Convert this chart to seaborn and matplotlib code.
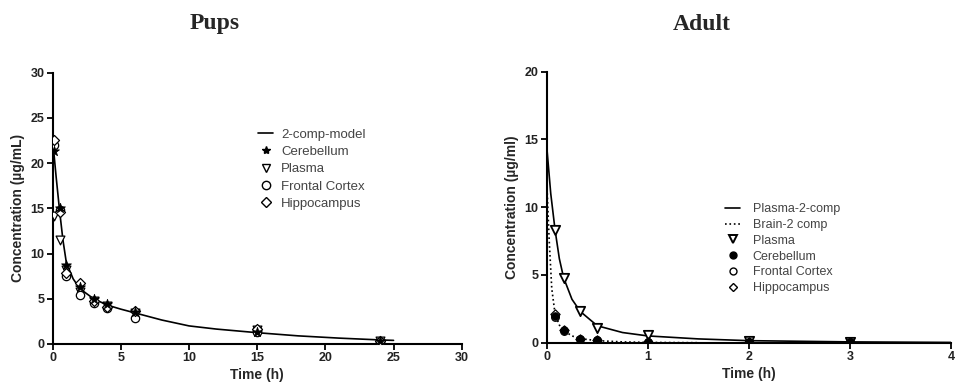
import matplotlib
matplotlib.use("Agg")
import matplotlib.pyplot as plt
import seaborn as sns
import pandas as pd
from matplotlib.lines import Line2D

# ---------------- data ----------------
pup_times = [0.083, 0.5, 1, 2, 3, 4, 6, 15, 24]
pup_cerebellum = [21.3, 15.0, 8.7, 6.3, 5.0, 4.4, 3.5, 1.3, 0.3]
pup_plasma = [14.1, 11.5, 8.2, 5.8, 4.8, 4.2, 3.4, 1.6, 0.3]
pup_frontal = [22.0, 14.8, 7.5, 5.4, 4.5, 4.0, 2.9, 1.3, 0.25]
pup_hippo = [22.5, 14.6, 7.8, 6.7, 4.7, 4.1, 3.6, 1.7, 0.35]

pup_model_t = [0, 0.25, 0.5, 0.75, 1, 1.5, 2, 3, 4, 5, 6, 8, 10, 12, 15, 18, 21, 24, 25]
pup_model_c = [22.5, 18.5, 14.8, 11.5, 9.0, 7.2, 6.1, 5.0, 4.3, 3.85, 3.45, 2.65, 2.0, 1.65, 1.25, 0.9, 0.65, 0.45, 0.4]

adult_times = [0.083, 0.167, 0.333, 0.5, 1, 2, 3]
adult_plasma = [8.3, 4.75, 2.35, 1.1, 0.6, 0.12, 0.06]
adult_cerebellum = [2.0, 0.9, 0.27, 0.2, 0.03, 0.05, 0.08]
adult_frontal = [1.9, 0.85, 0.25, 0.18, 0.02, 0.03, 0.05]
adult_hippo = [2.1, 0.95, 0.3, 0.22, 0.03, 0.04, 0.06]

adult_plasma_model_t = [0, 0.04, 0.083, 0.125, 0.167, 0.25, 0.333, 0.5, 0.75, 1, 1.5, 2, 3, 4]
adult_plasma_model_c = [14.5, 11.0, 8.3, 6.2, 4.8, 3.2, 2.3, 1.25, 0.75, 0.5, 0.28, 0.15, 0.06, 0.02]
adult_brain_model_t = [0, 0.025, 0.05, 0.083, 0.125, 0.167, 0.25, 0.333, 0.5, 0.75, 1, 1.5]
adult_brain_model_c = [12.0, 7.5, 4.0, 2.1, 1.3, 0.9, 0.5, 0.3, 0.15, 0.06, 0.02, 0.0]

pup_xticks = [0, 5, 10, 15, 20, 25, 30]
pup_yticks = [0, 5, 10, 15, 20, 25, 30]
adult_xticks = [0, 1, 2, 3, 4]
adult_yticks = [0, 5, 10, 15, 20]

# ---------------- style ----------------
sns.set_theme(style="ticks")
plt.rcParams['font.family'] = ['Liberation Sans', 'DejaVu Sans']

fig = plt.figure(figsize=(9.6, 3.84), dpi=100)
ax1 = fig.add_axes([52.7/960, 40/384, 409/960, 271.5/384])
ax2 = fig.add_axes([546.7/960, 41.3/384, 404.3/960, 271.2/384])

def style_axes(ax, xticks, yticks):
    for s in ['top', 'right']:
        ax.spines[s].set_visible(False)
    for s in ['left', 'bottom']:
        ax.spines[s].set_color('black')
        ax.spines[s].set_linewidth(1.5)
    ax.set_xticks(xticks)
    ax.set_yticks(yticks)
    ax.tick_params(direction='out', length=4, width=1.3, colors='black', labelsize=9, pad=2)
    for lab in ax.get_xticklabels() + ax.get_yticklabels():
        lab.set_fontweight('bold')
        lab.set_color('#222222')
    ax.set_facecolor('white')

# ---------------- Pups ----------------
sns.lineplot(x=pup_model_t, y=pup_model_c, ax=ax1, color='black', lw=1.2, sort=False, estimator=None)
sns.scatterplot(x=pup_times, y=pup_plasma, ax=ax1, marker='v', color='white', edgecolor='black', linewidth=0.9, s=40, zorder=3)
sns.scatterplot(x=pup_times, y=pup_frontal, ax=ax1, marker='o', color='white', edgecolor='black', linewidth=0.9, s=36, zorder=3)
sns.scatterplot(x=pup_times, y=pup_hippo, ax=ax1, marker='D', color='white', edgecolor='black', linewidth=0.9, s=26, zorder=3)
sns.scatterplot(x=pup_times, y=pup_cerebellum, ax=ax1, marker='*', color='black', edgecolor='black', linewidth=0.6, s=55, zorder=4)
ax1.set_xlim(0, 30)
ax1.set_ylim(0, 30)
style_axes(ax1, pup_xticks, pup_yticks)
ax1.set_xlabel('Time (h)', fontsize=10, fontweight='bold', labelpad=3)
ax1.set_ylabel('Concentration (µg/mL)', fontsize=10, fontweight='bold', labelpad=4)

h1 = [
    Line2D([], [], color='black', lw=1.2),
    Line2D([], [], color='black', marker='*', ls='none', markersize=6),
    Line2D([], [], color='black', marker='v', mfc='white', ls='none', markersize=6),
    Line2D([], [], color='black', marker='o', mfc='white', ls='none', markersize=6),
    Line2D([], [], color='black', marker='D', mfc='white', ls='none', markersize=5),
]
l1 = ['2-comp-model', 'Cerebellum', 'Plasma', 'Frontal Cortex', 'Hippocampus']
leg1 = ax1.legend(h1, l1, loc='upper left', bbox_to_anchor=((251-52.7)/409, (344-122)/271.5),
                  frameon=False, fontsize=9.5, handlelength=1.2, handletextpad=0.6,
                  labelspacing=0.38, borderpad=0)
for t in leg1.get_texts():
    t.set_color('#444444')

# ---------------- Adult ----------------
sns.lineplot(x=adult_plasma_model_t, y=adult_plasma_model_c, ax=ax2, color='black', lw=1.2, sort=False, estimator=None)
sns.lineplot(x=adult_brain_model_t, y=adult_brain_model_c, ax=ax2, color='black', lw=1.2, ls=':', sort=False, estimator=None)
sns.scatterplot(x=adult_times, y=adult_plasma, ax=ax2, marker='v', color='white', edgecolor='black', linewidth=1.3, s=45, zorder=3)
sns.scatterplot(x=adult_times, y=adult_frontal, ax=ax2, marker='o', color='white', edgecolor='black', linewidth=0.9, s=30, zorder=3)
sns.scatterplot(x=adult_times, y=adult_hippo, ax=ax2, marker='D', color='white', edgecolor='black', linewidth=0.9, s=22, zorder=3)
sns.scatterplot(x=adult_times, y=adult_cerebellum, ax=ax2, marker='o', color='black', edgecolor='black', linewidth=0.6, s=30, zorder=4)
ax2.set_xlim(0, 4)
ax2.set_ylim(0, 20)
style_axes(ax2, adult_xticks, adult_yticks)
ax2.set_xlabel('Time (h)', fontsize=10, fontweight='bold', labelpad=3)
ax2.set_ylabel('Concentration (µg/ml)', fontsize=10, fontweight='bold', labelpad=4)

h2 = [
    Line2D([], [], color='black', lw=1.2),
    Line2D([], [], color='black', lw=1.2, ls=':'),
    Line2D([], [], color='black', marker='v', mfc='white', mew=1.4, ls='none', markersize=6),
    Line2D([], [], color='black', marker='o', ls='none', markersize=5),
    Line2D([], [], color='black', marker='o', mfc='white', ls='none', markersize=5),
    Line2D([], [], color='black', marker='D', mfc='white', ls='none', markersize=4.5),
]
l2 = ['Plasma-2-comp', 'Brain-2 comp', 'Plasma', 'Cerebellum', 'Frontal Cortex', 'Hippocampus']
leg2 = ax2.legend(h2, l2, loc='upper left', bbox_to_anchor=((719-546.7)/404.3, (342.7-197)/271.2),
                  frameon=False, fontsize=9, handlelength=1.2, handletextpad=1.0,
                  labelspacing=0.3, borderpad=0)
for t in leg2.get_texts():
    t.set_color('#444444')

# ---------------- titles ----------------
fig.text(214.5/960, 1 - 24/384, 'Pups', ha='center', va='center', fontsize=17, fontweight='bold',
         family=['Liberation Serif', 'DejaVu Serif'])
fig.text(701.5/960, 1 - 24/384, 'Adult', ha='center', va='center', fontsize=17, fontweight='bold',
         family=['Liberation Serif', 'DejaVu Serif'])

fig.savefig('out.png', dpi=100, facecolor='white')
